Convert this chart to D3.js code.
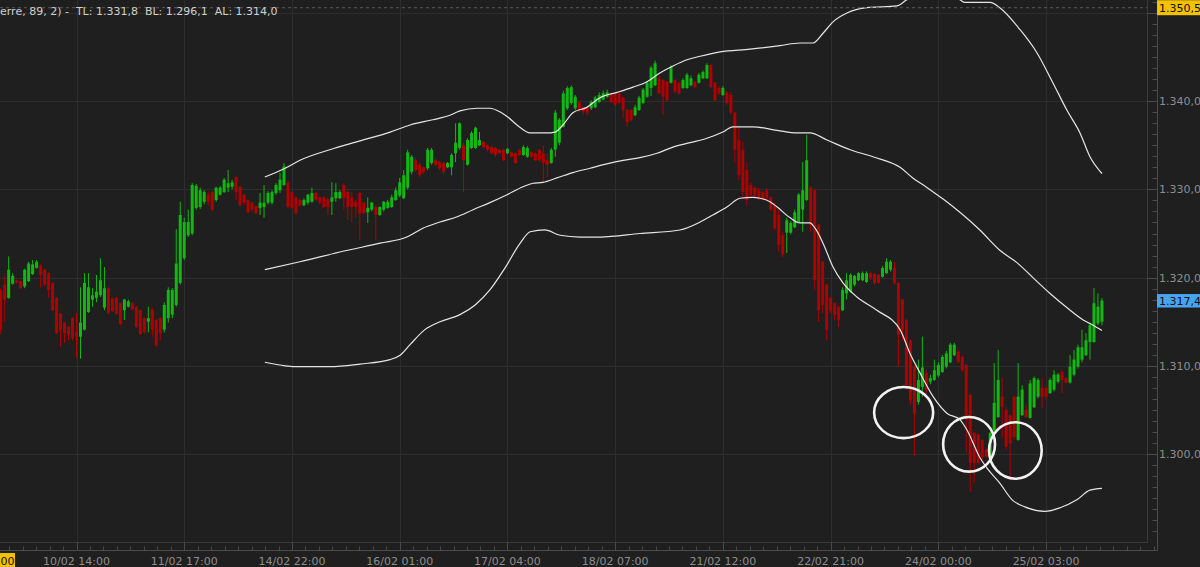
<!DOCTYPE html>
<html><head><meta charset="utf-8">
<script src="https://cdn.jsdelivr.net/npm/d3@7"></script>
<style>
html,body{margin:0;padding:0;background:#1f1f1f;overflow:hidden}
svg{display:block}
text{font-family:"DejaVu Sans",sans-serif;font-size:11px}
</style></head><body>
<svg id="c" width="1200" height="567"></svg>
<script>
// ---- candle data (hourly, index 0..276), prices in points ----
const opens=[1318.6,1319.2,1317.7,1319.3,1319.7,1319.6,1319.0,1319.6,1320.4,1321.1,
1321.4,1320.9,1320.5,1319.4,1317.7,1315.9,1314.9,1314.4,1315.4,1313.8,
1313.3,1314.1,1316.1,1317.5,1317.7,1318.0,1316.6,1318.8,1317.6,1317.7,
1317.1,1316.3,1316.7,1317.1,1316.7,1316.3,1315.4,1315.0,1316.4,1315.2,
1315.4,1314.1,1315.4,1315.8,1316.9,1319.4,1322.2,1324.8,1325.0,1327.9,
1328.0,1328.6,1329.4,1329.7,1328.8,1329.4,1329.7,1330.2,1330.3,1331.4,
1330.3,1329.4,1328.8,1328.5,1328.1,1327.9,1328.0,1328.5,1328.5,1329.6,
1329.9,1330.5,1330.8,1329.7,1329.1,1328.8,1328.2,1328.5,1328.6,1329.6,
1329.1,1329.1,1328.9,1328.6,1329.0,1329.0,1330.5,1329.7,1329.1,1328.6,
1329.6,1328.5,1327.4,1327.7,1328.0,1327.1,1327.7,1327.9,1328.0,1328.8,
1329.3,1329.0,1330.2,1332.0,1333.3,1332.8,1332.5,1332.4,1333.0,1333.3,
1333.1,1333.0,1332.5,1332.5,1334.1,1334.7,1335.0,1332.8,1334.7,1334.7,
1335.0,1335.4,1335.0,1334.8,1334.7,1334.5,1334.5,1334.1,1334.2,1334.1,
1334.5,1333.9,1333.7,1334.2,1334.1,1334.5,1334.1,1333.3,1333.0,1334.5,
1335.3,1337.1,1339.2,1339.8,1339.2,1339.9,1339.3,1339.3,1339.2,1339.3,
1339.9,1340.2,1340.5,1340.7,1340.9,1340.9,1340.4,1339.0,1339.0,1338.4,
1339.0,1339.8,1340.5,1341.5,1341.8,1342.6,1342.4,1342.2,1342.1,1342.4,
1342.1,1341.5,1341.5,1341.8,1342.2,1342.1,1342.6,1342.6,1344.1,1342.1,
1341.5,1340.7,1341.0,1340.7,1338.7,1335.6,1334.5,1332.2,1330.5,1330.2,
1329.9,1329.7,1329.9,1329.1,1328.2,1327.1,1324.8,1325.1,1325.1,1325.7,
1326.3,1327.7,1328.8,1330.2,1329.9,1326.0,1321.8,1319.2,1317.7,1317.1,
1316.7,1316.3,1318.2,1318.4,1319.2,1319.7,1319.7,1319.5,1320.5,1320.4,
1320.3,1320.1,1320.5,1320.9,1321.1,1319.4,1317.5,1315.2,1312.9,1309.9,
1305.9,1307.6,1309.2,1308.2,1308.4,1308.9,1309.3,1309.9,1310.4,1311.2,
1311.6,1311.0,1310.1,1306.7,1302.4,1302.2,1301.6,1300.5,1299.9,1302.7,
1304.2,1306.5,1305.0,1304.4,1306.5,1301.6,1304.4,1305.0,1304.1,1305.3,
1306.5,1307.5,1307.5,1306.9,1307.3,1308.2,1309.3,1308.6,1308.1,1309.0,
1309.9,1310.7,1311.2,1312.7,1312.7,1314.8,1315.0];
const highs=[1318.8,1320.2,1322.4,1320.5,1319.8,1319.7,1321.0,1321.8,1322.0,1322.0,
1321.5,1321.0,1320.6,1319.5,1317.8,1316.0,1315.0,1314.5,1315.5,1316.0,
1318.9,1320.5,1320.5,1318.8,1320.3,1322.2,1321.2,1318.9,1317.7,1317.8,
1317.2,1317.6,1317.5,1317.2,1316.8,1316.4,1315.5,1316.7,1316.6,1315.3,
1315.5,1317.2,1318.9,1318.8,1325.5,1328.6,1326.8,1327.7,1330.7,1330.6,
1330.2,1329.9,1329.7,1329.8,1330.3,1330.4,1331.3,1332.2,1331.1,1331.5,
1330.4,1329.5,1328.9,1328.6,1328.2,1329.6,1330.5,1329.8,1329.9,1330.7,
1331.9,1333.0,1331.0,1329.8,1329.2,1328.9,1329.0,1329.5,1330.2,1329.7,
1329.2,1329.2,1329.0,1330.8,1330.7,1329.9,1330.7,1329.9,1329.7,1328.8,
1329.7,1328.6,1329.1,1328.6,1328.2,1328.1,1328.7,1328.8,1329.4,1330.2,
1331.3,1332.2,1334.5,1333.9,1333.6,1333.0,1332.6,1334.7,1334.7,1333.6,
1333.2,1333.1,1333.1,1334.1,1337.5,1337.6,1335.3,1335.8,1336.6,1337.1,
1336.5,1335.5,1335.1,1334.9,1334.8,1334.6,1334.6,1334.7,1334.3,1334.2,
1334.6,1335.0,1334.9,1334.3,1334.2,1334.6,1335.0,1334.1,1334.7,1339.0,
1338.1,1341.2,1341.7,1341.8,1340.7,1340.1,1339.4,1339.4,1340.1,1340.6,
1341.0,1341.2,1341.3,1341.0,1341.0,1341.0,1340.5,1339.1,1339.1,1339.6,
1340.6,1341.5,1342.3,1344.0,1344.6,1342.9,1342.5,1342.3,1344.1,1342.5,
1342.2,1342.6,1343.2,1342.9,1342.3,1343.2,1343.5,1344.3,1344.2,1342.2,
1341.7,1341.7,1341.2,1341.0,1338.8,1337.1,1335.4,1333.0,1330.8,1330.3,
1330.2,1329.8,1330.2,1329.2,1328.5,1327.7,1325.2,1326.8,1326.4,1327.7,
1329.6,1333.1,1336.2,1330.4,1330.0,1326.1,1321.9,1319.3,1317.8,1317.2,
1316.8,1318.9,1320.5,1320.5,1320.3,1320.6,1320.7,1320.7,1320.6,1320.5,
1320.4,1321.3,1322.2,1322.0,1321.8,1319.5,1317.6,1315.3,1313.0,1310.0,
1310.7,1313.3,1309.5,1309.0,1310.7,1310.4,1311.2,1311.7,1312.6,1312.6,
1311.8,1311.2,1310.2,1306.8,1302.5,1302.3,1301.7,1300.6,1302.5,1310.3,
1311.8,1308.6,1305.3,1304.5,1306.6,1310.3,1307.8,1305.6,1308.4,1308.8,
1308.6,1308.6,1307.6,1308.6,1309.5,1309.2,1309.5,1308.7,1311.2,1311.8,
1312.4,1314.1,1313.7,1314.9,1318.8,1318.2,1317.7];
const lows=[1313.6,1315.0,1317.6,1319.2,1319.3,1318.7,1318.8,1319.5,1320.3,1321.0,
1318.9,1319.0,1317.7,1316.2,1313.6,1312.1,1312.6,1312.9,1312.9,1310.9,
1310.8,1314.0,1316.0,1316.7,1317.2,1317.8,1316.3,1315.8,1316.1,1315.8,
1314.6,1315.2,1316.6,1316.3,1314.3,1313.5,1313.7,1313.8,1313.3,1312.1,
1312.9,1313.8,1314.9,1315.4,1316.7,1319.2,1322.0,1324.6,1324.8,1327.7,
1327.8,1328.3,1328.2,1327.5,1328.6,1329.3,1329.6,1329.7,1330.0,1328.8,
1328.1,1328.2,1327.3,1327.5,1327.2,1327.1,1326.8,1328.3,1328.3,1329.4,
1329.6,1330.4,1327.9,1327.8,1327.1,1328.0,1328.1,1328.3,1328.5,1328.7,
1328.3,1327.9,1327.1,1327.1,1328.6,1328.9,1327.7,1326.5,1326.3,1326.8,
1324.3,1327.2,1326.2,1327.5,1324.3,1327.0,1327.5,1327.8,1327.9,1328.7,
1329.1,1328.9,1330.0,1331.7,1332.0,1331.4,1331.7,1332.2,1332.8,1332.6,
1332.2,1331.7,1332.4,1331.6,1333.1,1334.5,1329.7,1332.7,1334.6,1334.6,
1334.9,1334.7,1334.3,1334.0,1333.7,1334.0,1333.2,1334.0,1333.6,1332.9,
1333.8,1333.8,1333.6,1333.6,1333.2,1333.1,1330.7,1331.4,1332.9,1333.7,
1335.0,1337.0,1339.0,1339.6,1339.0,1338.8,1338.5,1338.4,1339.0,1339.2,
1339.8,1340.1,1340.4,1339.8,1339.4,1339.7,1338.1,1337.1,1337.7,1338.3,
1338.9,1339.7,1340.4,1340.6,1341.7,1340.8,1338.4,1340.0,1342.0,1340.9,
1340.7,1341.4,1341.4,1341.7,1341.5,1342.0,1342.5,1342.5,1341.5,1340.0,
1340.7,1340.6,1339.6,1338.5,1333.0,1331.1,1329.1,1328.2,1329.0,1329.1,
1328.8,1328.8,1328.8,1327.6,1325.4,1322.9,1322.3,1322.8,1324.9,1325.6,
1326.2,1325.2,1328.7,1325.2,1318.6,1315.0,1316.0,1312.9,1316.0,1315.2,
1314.4,1316.2,1317.5,1318.3,1319.0,1319.6,1319.6,1319.4,1319.7,1319.2,
1319.3,1320.0,1320.4,1320.7,1319.2,1309.9,1312.9,1307.3,1305.6,1299.7,
1305.6,1306.5,1306.9,1307.9,1308.3,1308.7,1309.2,1309.7,1310.3,1311.1,
1310.3,1309.3,1300.1,1295.7,1296.7,1298.8,1299.3,1299.6,1299.8,1302.5,
1304.1,1301.9,1300.5,1297.3,1301.6,1301.5,1304.3,1304.1,1304.0,1305.2,
1306.3,1305.2,1306.2,1306.8,1307.1,1308.0,1306.9,1308.0,1308.0,1308.8,
1309.7,1310.4,1311.1,1310.7,1312.6,1314.6,1314.6];
const closes=[1314.1,1317.5,1320.9,1320.2,1319.4,1318.8,1320.9,1321.6,1321.5,1321.8,
1320.3,1319.2,1318.6,1316.3,1313.7,1314.1,1313.7,1313.5,1313.1,1313.3,
1314.9,1319.4,1318.9,1318.0,1318.4,1319.7,1318.8,1316.0,1316.2,1315.9,
1314.7,1317.5,1317.3,1316.4,1314.4,1313.6,1313.8,1315.4,1314.1,1312.3,
1313.7,1316.9,1318.6,1318.6,1321.6,1327.1,1326.3,1326.3,1330.5,1330.4,
1329.9,1329.7,1328.6,1327.7,1330.2,1330.2,1331.1,1330.7,1330.8,1329.7,
1328.2,1328.5,1327.4,1327.7,1327.3,1328.5,1328.5,1329.6,1329.7,1330.5,
1331.1,1332.6,1328.0,1327.9,1327.3,1328.2,1328.8,1329.4,1329.6,1328.8,
1328.5,1328.0,1328.0,1329.1,1329.7,1329.7,1329.0,1328.0,1328.0,1328.0,
1327.3,1327.3,1327.9,1328.5,1327.1,1328.0,1328.6,1328.6,1329.1,1329.9,
1330.8,1331.6,1334.2,1333.7,1332.2,1331.6,1332.0,1334.5,1334.5,1332.8,
1332.4,1332.0,1333.0,1333.9,1335.3,1337.5,1333.3,1335.6,1336.4,1337.0,
1335.6,1334.8,1334.5,1334.1,1333.9,1334.1,1333.3,1334.6,1333.7,1333.0,
1333.9,1334.8,1334.7,1333.7,1333.3,1333.3,1333.0,1332.8,1334.5,1338.7,
1337.9,1340.9,1341.5,1341.6,1340.5,1339.0,1338.8,1338.7,1339.9,1340.4,
1340.7,1340.9,1341.0,1339.9,1339.6,1339.8,1339.0,1337.6,1337.9,1339.3,
1340.4,1341.3,1342.1,1343.8,1344.3,1340.9,1340.5,1340.1,1343.9,1341.1,
1340.9,1342.4,1343.0,1342.6,1341.6,1343.0,1343.3,1344.1,1341.6,1340.1,
1340.9,1341.5,1339.8,1338.7,1334.5,1331.6,1329.7,1328.8,1329.4,1329.3,
1329.0,1328.9,1329.0,1327.7,1325.6,1323.7,1322.6,1326.5,1326.2,1327.4,
1329.4,1329.9,1333.3,1326.0,1319.7,1316.3,1316.9,1314.1,1316.3,1315.8,
1315.2,1318.6,1319.7,1320.3,1320.2,1320.5,1320.5,1320.5,1320.0,1319.4,
1319.4,1321.1,1321.8,1321.8,1319.4,1313.5,1314.1,1307.8,1306.1,1304.6,
1308.4,1309.8,1307.3,1308.6,1309.5,1310.1,1311.0,1311.4,1312.4,1312.4,
1310.4,1309.5,1303.9,1299.0,1299.0,1299.0,1299.6,1299.7,1302.4,1305.8,
1308.4,1305.3,1300.8,1301.2,1301.9,1306.5,1307.3,1304.2,1308.0,1308.6,
1308.4,1306.5,1306.5,1308.4,1309.0,1309.0,1308.4,1308.1,1309.9,1310.7,
1312.1,1312.1,1312.9,1314.6,1317.1,1316.7,1317.4];

// ---- Bollinger (89, 2) band readings: [candle index, price] ----
const upperBand=[[66.2,1331.4],[71.3,1332.4],[75,1333.3],[82.5,1334.5],[90.1,1335.5],[97.6,1336.5],[102.6,1337.3],[108.3,1337.9],[112.6,1338.4],[115.1,1338.9],[119.4,1339.2],[122.6,1339.2],[125.1,1338.8],[127.1,1338.2],[129.4,1337.3],[132.7,1336.4],[136.9,1336.4],[138.9,1336.5],[140.9,1337.3],[143.4,1338.7],[146.9,1339.3],[150.2,1340.4],[154.5,1341.0],[158.5,1341.6],[162,1342.2],[165.2,1343.2],[168.5,1344.0],[172,1344.7],[175.3,1345.1],[180.3,1345.6],[187.8,1345.9],[195.3,1346.3],[200.3,1346.6],[203.6,1346.6],[206.1,1347.7],[208.6,1349.0],[212.1,1350.0],[217.1,1350.6],[224.6,1350.8],[227.1,1351.5],[234.2,1352.4],[240.4,1351.5],[241.7,1351.2],[248,1351.2],[250.4,1350.6],[255.5,1348.1],[259.7,1345.5],[263.7,1342.1],[267.2,1339.0],[270.5,1336.4],[273,1333.7],[276,1331.8]];
const middleBand=[[66.2,1320.9],[75,1321.8],[85,1322.9],[95.1,1323.9],[101.8,1324.6],[105.8,1325.6],[110.1,1326.3],[114.4,1326.9],[118.4,1327.7],[122.6,1328.5],[126.9,1329.4],[130.9,1330.3],[133.4,1330.7],[135.9,1330.8],[139.4,1331.3],[143.4,1331.9],[147.7,1332.4],[151.9,1332.9],[156,1333.3],[160.2,1333.6],[164.5,1334.1],[168.5,1334.8],[172.8,1335.3],[177,1335.8],[181,1336.5],[183.5,1337.1],[188.5,1337.1],[194.6,1336.7],[199.6,1336.4],[202.8,1336.4],[207.1,1335.6],[212.9,1334.5],[218.6,1333.7],[225.4,1332.5],[228.6,1331.3],[232.2,1330.2],[236.2,1328.9],[240.4,1327.4],[245.4,1325.4],[250.4,1323.1],[254.7,1321.7],[258.7,1320.0],[263,1318.2],[267.2,1316.6],[271.3,1315.2],[273.8,1314.6],[276,1314.0]];
const lowerBand=[[66.2,1310.4],[71.3,1310.0],[75,1309.9],[82.5,1309.9],[90.1,1310.2],[97.6,1310.7],[100.1,1311.2],[102.6,1312.4],[106.3,1314.1],[110.1,1315.0],[115.1,1315.8],[118.9,1316.9],[122.6,1318.6],[126.4,1321.1],[130.2,1323.9],[132.7,1325.2],[136.4,1325.4],[140.2,1324.8],[145.2,1324.6],[150.2,1324.6],[160.2,1325.0],[170.2,1325.4],[175.3,1326.3],[178.5,1327.1],[182,1328.0],[185.3,1329.0],[188.5,1329.1],[190.3,1329.0],[192.8,1328.6],[194.6,1328.0],[197.8,1326.8],[200.3,1326.2],[202.8,1326.2],[204.1,1325.6],[206.1,1323.9],[208.6,1321.2],[211.1,1319.4],[214.6,1317.8],[219.6,1316.3],[225.4,1314.1],[227.9,1311.4],[230.4,1309.2],[233.7,1306.5],[237.2,1304.6],[240.4,1303.9],[242.2,1302.7],[245.4,1299.6],[247.2,1298.4],[250.4,1296.7],[253.5,1294.8],[256.7,1294.0],[261.7,1293.5],[265.5,1293.9],[269.7,1294.8],[273,1295.9],[276,1296.1]];

// ---- axes ----
const xTickIndex=[19,46,73,100,127,154,181,208,235,262];
const xTickLabels=["10/02 14:00","11/02 17:00","14/02 22:00","16/02 01:00","17/02 04:00","18/02 07:00","21/02 12:00","22/02 21:00","24/02 00:00","25/02 03:00"];
const yTickValues=[1300,1310,1320,1330,1340,1350];

// ---- annotations (hand-drawn ellipses): center index, center price, half-width (candles), half-height (price) ----
const markIdx=[226.3,242.7,254.3];
const markPrice=[1304.7,1301.1,1300.4];
const markHalfW=[7.4,6.5,6.6];
const markHalfH=[2.9,3.1,3.2];

const crosshairPrice=1350.6, crosshairLabel="1.350,5", crosshairTimeTail="00";
const lastPrice=1317.4;

// ---- drawing ----
const svg=d3.select('#c');
const plotR=1147, plotB=542, axisX=1157.5, axisY=550.5;
const x=d3.scaleLinear().domain([0,276]).range([0.7,0.7+276*3.99]);
const y=d3.scaleLinear().domain([1300,1350]).range([454,13]);
const loc=d3.formatLocale({decimal:",",thousands:".",grouping:[3],currency:["",""]});
const fmt=loc.format(",.1f");
const green="#10b810", red="#b00000", grid="#2d2d2d", axisCol="#4a4a4a", txt="#8e8e8e";

svg.append('rect').attr('width',1200).attr('height',567).attr('fill','#1f1f1f');
svg.append('defs').append('clipPath').attr('id','pc').append('rect').attr('x',0).attr('y',0).attr('width',plotR).attr('height',plotB);

// grid
const gg=svg.append('g');
gg.selectAll('line.h').data(yTickValues).join('line').attr('x1',0).attr('x2',axisX)
  .attr('y1',d=>Math.round(y(d))+0.5).attr('y2',d=>Math.round(y(d))+0.5).attr('stroke',grid);
gg.selectAll('line.v').data(xTickIndex).join('line').attr('y1',0).attr('y2',axisY)
  .attr('x1',d=>Math.round(x(d))+0.5).attr('x2',d=>Math.round(x(d))+0.5).attr('stroke',grid);

// frame
svg.append('line').attr('x1',plotR+0.5).attr('x2',plotR+0.5).attr('y1',0).attr('y2',plotB+0.5).attr('stroke','#3a3a3a');
svg.append('line').attr('x1',0).attr('x2',plotR+0.5).attr('y1',plotB+0.5).attr('y2',plotB+0.5).attr('stroke','#3a3a3a');

// right axis
svg.append('line').attr('x1',axisX).attr('x2',axisX).attr('y1',0).attr('y2',axisY).attr('stroke',axisCol);
const yMinor=d3.range(1290,1352,1.25).filter(v=>y(v)>0&&y(v)<plotB);
svg.selectAll('line.ym').data(yMinor).join('line').attr('x1',axisX-5).attr('x2',axisX)
  .attr('y1',d=>Math.round(y(d))+0.5).attr('y2',d=>Math.round(y(d))+0.5).attr('stroke',axisCol);
svg.selectAll('line.yM').data(yTickValues).join('line').attr('x1',plotR).attr('x2',axisX)
  .attr('y1',d=>Math.round(y(d))+0.5).attr('y2',d=>Math.round(y(d))+0.5).attr('stroke',axisCol);
svg.selectAll('text.yl').data(yTickValues.filter(v=>Math.abs(y(v)-y(crosshairPrice))>10)).join('text')
  .attr('x',axisX+1.5).attr('y',d=>y(d)+4).attr('fill',txt).text(d=>fmt(d));

// bottom axis
svg.append('line').attr('x1',0).attr('x2',axisX+0.5).attr('y1',axisY).attr('y2',axisY).attr('stroke',axisCol);
const step=(xTickIndex[1]-xTickIndex[0])/8;
const xMinor=d3.range(xTickIndex[0]-16*step,xTickIndex[xTickIndex.length-1]+16*step,step).filter(i=>x(i)>0&&x(i)<axisX);
svg.selectAll('line.xm').data(xMinor).join('line').attr('y1',axisY-4).attr('y2',axisY)
  .attr('x1',d=>Math.round(x(d))+0.5).attr('x2',d=>Math.round(x(d))+0.5).attr('stroke',axisCol);
svg.selectAll('line.xM').data(xTickIndex).join('line').attr('y1',plotB).attr('y2',axisY)
  .attr('x1',d=>Math.round(x(d))+0.5).attr('x2',d=>Math.round(x(d))+0.5).attr('stroke',axisCol);
svg.selectAll('text.xl').data(xTickIndex).join('text').attr('x',d=>x(d)).attr('y',564.5)
  .attr('text-anchor','middle').attr('fill',txt).text((d,k)=>xTickLabels[k]);

// plot content
const pg=svg.append('g').attr('clip-path','url(#pc)');
const candles=d3.range(opens.length).map(i=>({i,o:opens[i],h:highs[i],l:lows[i],c:closes[i]}));
pg.selectAll('line.wick').data(candles).join('line')
  .attr('x1',d=>x(d.i)).attr('x2',d=>x(d.i)).attr('y1',d=>y(d.h)).attr('y2',d=>y(d.l))
  .attr('stroke',d=>d.c>=d.o?green:red).attr('stroke-width',1);
pg.selectAll('rect.body').data(candles).join('rect')
  .attr('x',d=>x(d.i)-1.5).attr('width',3)
  .attr('y',d=>y(Math.max(d.o,d.c))).attr('height',d=>Math.max(1,Math.abs(y(d.o)-y(d.c))))
  .attr('fill',d=>d.c>=d.o?green:red);

const line=d3.line().x(d=>x(d[0])).y(d=>y(d[1])).curve(d3.curveMonotoneX);
[upperBand,middleBand,lowerBand].forEach(b=>{
  pg.append('path').attr('d',line(b)).attr('fill','none').attr('stroke','#e6e6e6').attr('stroke-width',1.2);
});

// crosshair dotted line
pg.append('line').attr('x1',0).attr('x2',plotR).attr('y1',y(crosshairPrice)).attr('y2',y(crosshairPrice))
  .attr('stroke','#5a5a5a').attr('stroke-dasharray','3,3');

// ellipses
pg.selectAll('ellipse').data(markIdx).join('ellipse')
  .attr('cx',d=>x(d)).attr('cy',(d,k)=>y(markPrice[k]))
  .attr('rx',(d,k)=>x(d+markHalfW[k])-x(d)).attr('ry',(d,k)=>y(markPrice[k]-markHalfH[k])-y(markPrice[k]))
  .attr('fill','none').attr('stroke','#f2f2f2').attr('stroke-width',2.6);

// price tags
const cy=y(crosshairPrice);
svg.append('rect').attr('x',axisX-0.5).attr('y',cy-7.5).attr('width',50).attr('height',15).attr('fill','#f2c200');
svg.append('text').attr('x',axisX+1.5).attr('y',cy+4).attr('fill','#111').text(crosshairLabel);
const ly=y(lastPrice);
svg.append('rect').attr('x',axisX-0.5).attr('y',ly-6.5).attr('width',50).attr('height',13.5).attr('fill','#4aa3ef');
svg.append('text').attr('x',axisX+1.5).attr('y',ly+4).attr('fill','#111').text(fmt(lastPrice));

// bottom-left crosshair time tag
svg.append('rect').attr('x',-60).attr('y',553).attr('width',75).attr('height',16).attr('fill','#f2c200');
svg.append('text').attr('x',0.5).attr('y',564.5).attr('fill','#111').text(crosshairTimeTail);

// title
const tl=upperBand[upperBand.length-1][1], bl=lowerBand[lowerBand.length-1][1], al=middleBand[middleBand.length-1][1];
svg.append('text').attr('x',0).attr('y',15).attr('fill','#cfcfcf').style('white-space','pre')
  .text(`erre, 89, 2) -  TL: ${fmt(tl)}  BL: ${fmt(bl)}  AL: ${fmt(al)}`);
</script>
</body></html>
